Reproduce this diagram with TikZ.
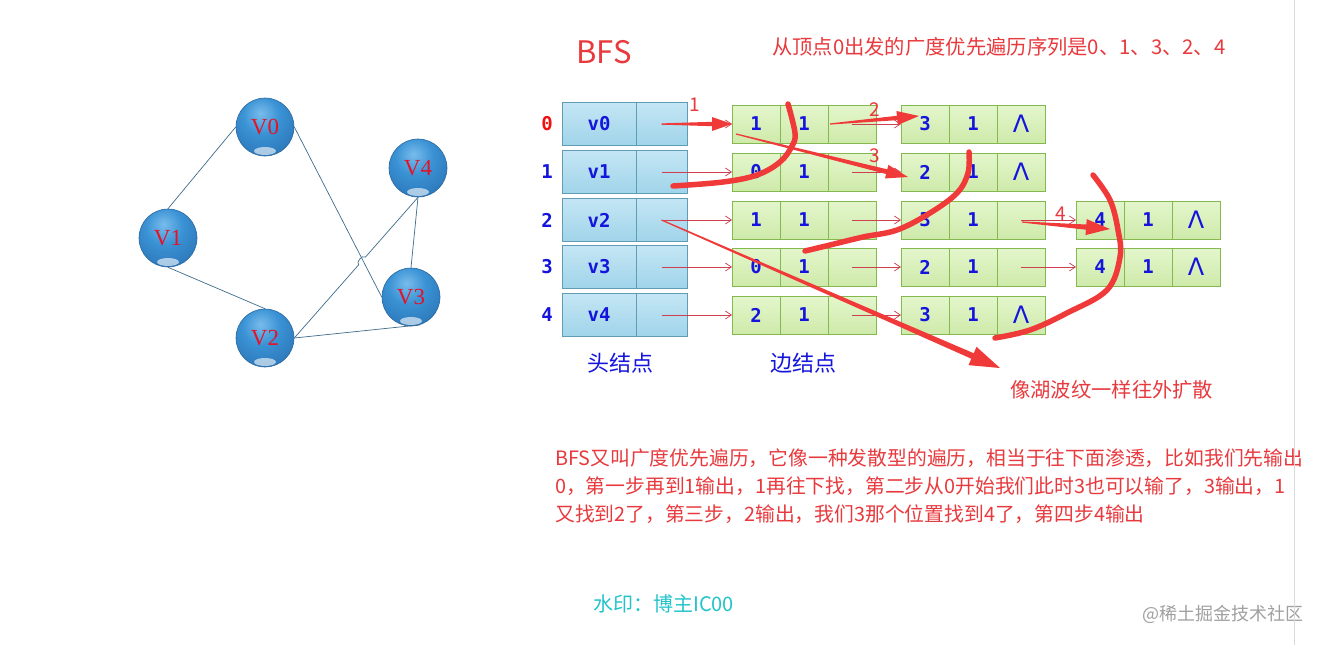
\documentclass[tikz,border=0pt]{standalone}
\usepackage{fontspec}
\usetikzlibrary{positioning,calc,arrows.meta}
\newfontfamily\cjk{Noto Sans CJK SC}
\newfontfamily\mono{DejaVu Sans Mono}
\newfontfamily\greek{DejaVu Sans}
\newfontfamily\ballfont{Liberation Serif}

\definecolor{ballhi}{RGB}{120,188,236}
\definecolor{ballmid}{RGB}{58,146,212}
\definecolor{balldark}{RGB}{40,112,178}
\definecolor{ballrim}{RGB}{44,104,160}
\definecolor{vred}{RGB}{226,20,40}
\definecolor{gline}{RGB}{62,108,140}
\definecolor{headtop}{RGB}{196,230,244}
\definecolor{headbot}{RGB}{160,212,234}
\definecolor{headrim}{RGB}{96,156,180}
\definecolor{edgetop}{RGB}{228,246,204}
\definecolor{edgebot}{RGB}{206,234,170}
\definecolor{edgerim}{RGB}{134,184,80}
\definecolor{cellblue}{RGB}{20,20,220}
\definecolor{rowred}{RGB}{240,16,16}
\definecolor{ptrred}{RGB}{206,64,80}
\definecolor{handred}{RGB}{240,58,58}
\definecolor{notered}{RGB}{232,58,62}
\definecolor{markcyan}{RGB}{34,196,204}
\definecolor{markgray}{RGB}{160,160,160}
\definecolor{sepgray}{RGB}{218,218,218}

\pgfdeclareradialshading{sphere}{\pgfpoint{-4bp}{12bp}}{color(0bp)=(ballhi); color(16bp)=(ballmid); color(40bp)=(balldark); color(100bp)=(balldark)}

% one edge node: name, left x, y, vertex, link cell
\newcommand\edgenode[5]{%
  \node[edgecell, anchor=west] (#1-1) at (#2,-#3) {#4};
  \node[edgecell, right=0pt of #1-1] (#1-2) {1};
  \node[edgecell, right=0pt of #1-2] (#1-3) {#5};}
\newcommand\nilmark{{\greek\mdseries\fontsize{24}{24}\selectfont Λ}}
% hand drawn arrow: from, tip, body half width, head half width, head length
\newcommand\handarrow[5]{%
  \coordinate (hb) at ($(#2)!#5!(#1)$);
  \fill[handred] ($(#1)!.6pt!90:(hb)$) -- ($(hb)!#3!-90:(#1)$) -- ($(hb)!#4!-90:(#1)$) -- (#2)
    -- ($(hb)!#4!90:(#1)$) -- ($(hb)!#3!90:(#1)$) -- ($(#1)!.6pt!-90:(hb)$) -- cycle;}

\tikzset{
  ball/.style={circle, minimum size=58pt, inner sep=0, shading=sphere, draw=ballrim, line width=.6pt,
    text=vred, font=\ballfont\fontsize{23}{23}\selectfont,
    path picture={\fill[white, opacity=.6] ($(path picture bounding box.south)+(0,5)$) ellipse (11 and 4);}},
  gedge/.style={draw=gline, line width=.7pt},
  headname/.style={draw=headrim, top color=headtop, bottom color=headbot, minimum width=74pt,
    minimum height=43pt, inner sep=0, outer sep=0, text=cellblue, font=\mono\bfseries\fontsize{19}{19}\selectfont},
  headptr/.style={headname, minimum width=51pt},
  edgecell/.style={draw=edgerim, top color=edgetop, bottom color=edgebot, minimum width=48pt,
    minimum height=38pt, inner sep=0, outer sep=0, text=cellblue, font=\mono\bfseries\fontsize{19}{19}\selectfont},
  rowlabel/.style={font=\mono\bfseries\fontsize{19}{19}\selectfont, inner sep=0},
  ptr/.style={draw=ptrred, line width=.7pt, -{Straight Barb[length=6pt,width=8pt]}},
  stroke/.style={draw=handred, line width=5.5pt, line cap=round, line join=round},
  note/.style={text=notered, font=\cjk\fontsize{20.3}{20.3}\selectfont, inner sep=0},
  steplabel/.style={text=notered, font=\cjk\fontsize{19}{19}\selectfont, inner sep=0}
}

\begin{document}
\begin{tikzpicture}[x=1pt, y=1pt]
\fill[white] (0,0) rectangle (1321,-645);
\useasboundingbox (0,0) rectangle (1321,-645);

% the graph
\node[ball] (V0) at (265,-127) {V0};
\node[ball] (V1) at (168,-238) {V1};
\node[ball] (V4) at (418,-168) {V4};
\node[ball] (V3) at (411,-297) {V3};
\node[ball] (V2) at (265,-338) {V2};

\coordinate (hopa) at ($(V2.east)!.52!(V4.south)$);
\coordinate (hopb) at ($(V2.east)!.575!(V4.south)$);
\draw[gedge] (V0.west) -- (V1.north);
\draw[gedge] (V1.south) -- (V2.north);
\draw[gedge] (V0.east) -- (V3.west);
\draw[gedge] (V2.east) -- (hopa) to[bend left=90] (hopb) -- (V4.south);
\draw[gedge] (V4.south) -- (V3.north);
\draw[gedge] (V2.east) -- (V3.-72);

% adjacency list
\foreach \r/\y/\c in {0/124/rowred,1/172/cellblue,2/220/cellblue,3/267/cellblue,4/315/cellblue} {
  \node[rowlabel, text=\c] (n\r) at (547,-\y) {\r};
  \node[headname] (h\r) at (599,-\y) {v\r};
  \node[headptr, right=0pt of h\r] (p\r) {};
}
\edgenode{a0}{732}{124}{1}{}
\edgenode{a1}{732}{172}{0}{}
\edgenode{a2}{732}{220}{1}{}
\edgenode{a3}{732}{267}{0}{}
\edgenode{a4}{732}{315}{2}{}
\edgenode{b0}{901}{124}{3}{\nilmark}
\edgenode{b1}{901}{172}{2}{\nilmark}
\edgenode{b2}{901}{220}{3}{}
\edgenode{b3}{901}{267}{2}{}
\edgenode{b4}{901}{315}{3}{\nilmark}
\edgenode{c2}{1076}{220}{4}{\nilmark}
\edgenode{c3}{1076}{267}{4}{\nilmark}

\foreach \r in {0,...,4} {
  \draw[ptr] (p\r.center) -- (a\r-1.west);
  \draw[ptr] (a\r-3.center) -- (b\r-1.west);
}
\draw[ptr] (b2-3.center) -- (c2-1.west);
\draw[ptr] (b3-3.center) -- (c3-1.west);

\node[text=cellblue, font=\cjk\fontsize{22}{22}\selectfont] (headtxt) at (620,-363) {头结点};
\node[text=cellblue, font=\cjk\fontsize{22}{22}\selectfont] (edgetxt) at (803,-363) {边结点};

% hand drawn marks
\coordinate (s2) at (830,-124);
\coordinate (t2) at (919,-116);
\coordinate (s3) at (736,-134);
\coordinate (t3) at (908,-177);
\coordinate (s4) at (1022,-222);
\coordinate (t4) at (1110,-229);
\coordinate (t5) at (1000,-368);
\handarrow{p0.center}{a0-1.west}{2.2pt}{7pt}{20pt}
\handarrow{s2}{t2}{2.2pt}{7pt}{22pt}
\handarrow{s3}{t3}{2.4pt}{7pt}{22pt}
\handarrow{s4}{t4}{2.6pt}{8pt}{24pt}
\handarrow{p2.center}{t5}{3pt}{10pt}{30pt}
\draw[stroke] plot[smooth, tension=.6] coordinates {(788,-104) (795,-133) (792,-146) (780,-162) (757,-175) (723,-182) (673,-186)};
\draw[stroke] plot[smooth, tension=.6] coordinates {(969,-152) (968,-173) (957,-193) (930,-213) (897,-230) (863,-237) (830,-245) (805,-251)};
\draw[stroke] plot[smooth, tension=.6] coordinates {(1093,-175) (1110,-200) (1118,-230) (1120,-257) (1107,-290) (1067,-313) (1030,-330) (995,-338)};
\node[steplabel] (k1) at (695,-105) {1};
\node[steplabel] (k2) at (875,-110) {2};
\node[steplabel] (k3) at (875,-156) {3};
\node[steplabel] (k4) at (1061,-214) {4};

% texts
\node[note, font=\cjk\fontsize{31}{31}\selectfont] (title) at (604,-52) {BFS};
\node[note, anchor=west] (order) at (772,-47) {从顶点0出发的广度优先遍历序列是0、1、3、2、4};
\node[note, anchor=west] (ripple) at (1010,-390) {像湖波纹一样往外扩散};
\node[note, anchor=north west, align=left, font=\cjk\fontsize{19.8}{28}\selectfont] (desc) at (555,-449)
  {BFS又叫广度优先遍历，它像一种发散型的遍历，相当于往下面渗透，比如我们先输出\\
   0，第一步再到1输出，1再往下找，第二步从0开始我们此时3也可以输了，3输出，1\\
   又找到2了，第三步，2输出，我们3那个位置找到4了，第四步4输出};
\node[note, anchor=west, text=markcyan, font=\cjk\fontsize{20}{20}\selectfont] (mark) at (593,-604) {水印：博主IC00};
\node[note, anchor=west, text=markgray, font=\cjk\fontsize{18}{18}\selectfont] (site) at (1142,-614) {@稀土掘金技术社区};
\draw[sepgray, line width=.8pt] (1294,0) -- (1294,-645);
\end{tikzpicture}
\end{document}
